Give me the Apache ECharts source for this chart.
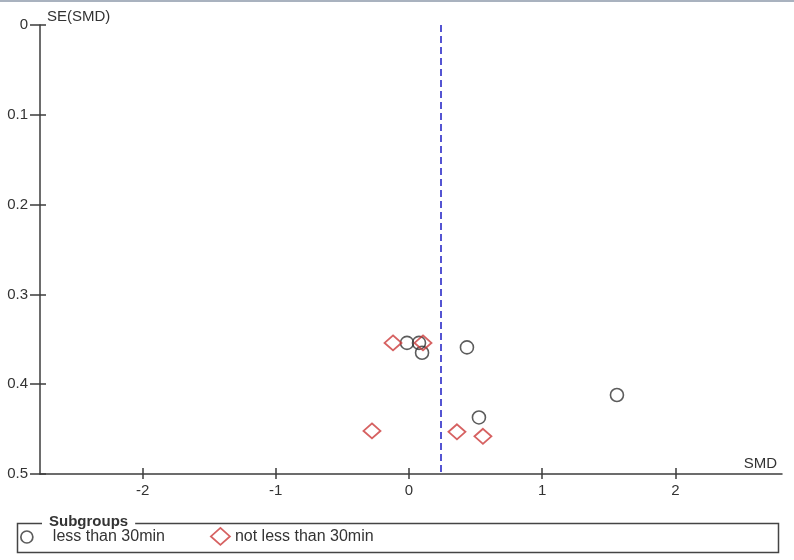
<!DOCTYPE html>
<html>
<head>
<meta charset="utf-8">
<script src="https://cdn.jsdelivr.net/npm/echarts@6/dist/echarts.min.js"></script>
<style>
html,body{margin:0;padding:0;background:#fff;}
#chart{width:794px;height:560px;}
</style>
</head>
<body>
<div id="chart"></div>
<script>
// ---- data ----
const seriesNames = ['less than 30min', 'not less than 30min'];
const lessSMD = [-0.015, 0.075, 0.098, 0.435, 1.561, 0.525];
const lessSE  = [0.354, 0.354, 0.365, 0.359, 0.412, 0.437];
const notLessSMD = [-0.12, 0.105, -0.278, 0.36, 0.555];
const notLessSE  = [0.354, 0.354, 0.452, 0.453, 0.458];
const pooledSMD = 0.24;
const xTickValues = [-2, -1, 0, 1, 2];
const yTickValues = [0, 0.1, 0.2, 0.3, 0.4, 0.5];
const xTitle = 'SMD';
const yTitle = 'SE(SMD)';
const legendTitle = 'Subgroups';

const FONT = '"Liberation Sans", Arial, sans-serif';
const AXIS_COLOR = '#3c3c3c';
const TEXT_COLOR = '#333';

const lessData = lessSMD.map((v, i) => [v, lessSE[i]]);
const notLessData = notLessSMD.map((v, i) => [v, notLessSE[i]]);

const chart = echarts.init(document.getElementById('chart'), null, {renderer: 'canvas'});

const xMin = -2.77, xMax = 2.8;

chart.setOption({
  animation: false,
  backgroundColor: '#fff',
  textStyle: {fontFamily: FONT},
  grid: {left: 40, right: 12, top: 25, bottom: 86, containLabel: false},
  xAxis: [{
    type: 'value', min: xMin, max: xMax, position: 'bottom',
    name: xTitle, nameLocation: 'end', nameGap: -5,
    nameTextStyle: {fontFamily: FONT, fontSize: 15, color: TEXT_COLOR, align: 'right', verticalAlign: 'bottom', padding: [0, 0, 3, 0]},
    axisLine: {onZero: false, lineStyle: {color: AXIS_COLOR, width: 1.5}},
    axisTick: {show: true, length: 5, customValues: xTickValues, lineStyle: {color: AXIS_COLOR, width: 1.5}},
    axisLabel: {customValues: xTickValues, margin: 9, fontFamily: FONT, fontSize: 15, color: TEXT_COLOR},
    splitLine: {show: false}
  }, {
    type: 'value', min: xMin, max: xMax, position: 'bottom',
    axisLine: {show: false, onZero: false},
    axisTick: {show: true, inside: true, length: 6, customValues: xTickValues, lineStyle: {color: AXIS_COLOR, width: 1.5}},
    axisLabel: {show: false},
    splitLine: {show: false}
  }],
  yAxis: [{
    type: 'value', min: 0, max: 0.5, interval: 0.1, inverse: true, position: 'left',
    name: yTitle, nameLocation: 'start', nameGap: 1,
    nameTextStyle: {fontFamily: FONT, fontSize: 15, color: TEXT_COLOR, align: 'left', verticalAlign: 'bottom', padding: [0, 0, 0, 7]},
    axisLine: {onZero: false, lineStyle: {color: AXIS_COLOR, width: 1.5}},
    axisTick: {show: true, length: 10, lineStyle: {color: AXIS_COLOR, width: 1.5}},
    axisLabel: {margin: 12, fontFamily: FONT, fontSize: 15, color: TEXT_COLOR,
      formatter: v => String(Math.round(v * 10) / 10)},
    splitLine: {show: false}
  }, {
    type: 'value', min: 0, max: 0.5, interval: 0.1, inverse: true, position: 'left',
    axisLine: {show: false, onZero: false},
    axisTick: {show: true, inside: true, length: 6, lineStyle: {color: AXIS_COLOR, width: 1.5}},
    axisLabel: {show: false},
    splitLine: {show: false}
  }],
  legend: [{
    data: [seriesNames[0]],
    orient: 'horizontal', left: 20, top: 529, padding: 0,
    itemWidth: 12, itemHeight: 12,
    itemStyle: {color: 'rgba(0,0,0,0)', borderColor: '#333', borderWidth: 1.7},
    textStyle: {fontFamily: FONT, fontSize: 16, color: TEXT_COLOR, padding: [0, 0, 0, 15]},
    selectedMode: false
  }, {
    data: [seriesNames[1]],
    orient: 'horizontal', left: 210, top: 527, padding: 0,
    itemWidth: 19, itemHeight: 17,
    itemStyle: {color: 'rgba(0,0,0,0)', borderColor: '#cc3a3a', borderWidth: 1.8},
    textStyle: {fontFamily: FONT, fontSize: 16, color: TEXT_COLOR},
    selectedMode: false
  }],
  graphic: [
    {type: 'rect', shape: {x: 0, y: 0, width: 794, height: 2}, style: {fill: '#a9b2bf'}, silent: true},
    {type: 'rect', shape: {x: 17.5, y: 523.5, width: 761, height: 29}, style: {fill: 'none', stroke: '#444', lineWidth: 1.5}, silent: true, z: 0},
    {type: 'text', left: 42, top: 514, z: 10, silent: true,
      style: {text: legendTitle, font: 'bold 15px ' + FONT, fill: TEXT_COLOR, backgroundColor: '#fff', padding: [0, 7, 0, 7]}}
  ],
  series: [{
    name: seriesNames[0], type: 'scatter', xAxisIndex: 0, yAxisIndex: 0,
    data: lessData, symbol: 'circle', symbolSize: 13,
    itemStyle: {color: 'rgba(0,0,0,0)', borderColor: '#333', borderWidth: 1.6},
    emphasis: {disabled: true},
    markLine: {
      silent: true, symbol: ['none', 'none'], label: {show: false},
      lineStyle: {color: '#1c1cc4', width: 1.5, type: [7, 4]},
      data: [{xAxis: pooledSMD}]
    },
    z: 3
  }, {
    name: seriesNames[1], type: 'scatter', xAxisIndex: 0, yAxisIndex: 0,
    data: notLessData, symbol: 'diamond', symbolSize: [17, 15],
    itemStyle: {color: 'rgba(0,0,0,0)', borderColor: '#cc3a3a', borderWidth: 1.8},
    emphasis: {disabled: true},
    z: 4
  }]
});
</script>
</body>
</html>
